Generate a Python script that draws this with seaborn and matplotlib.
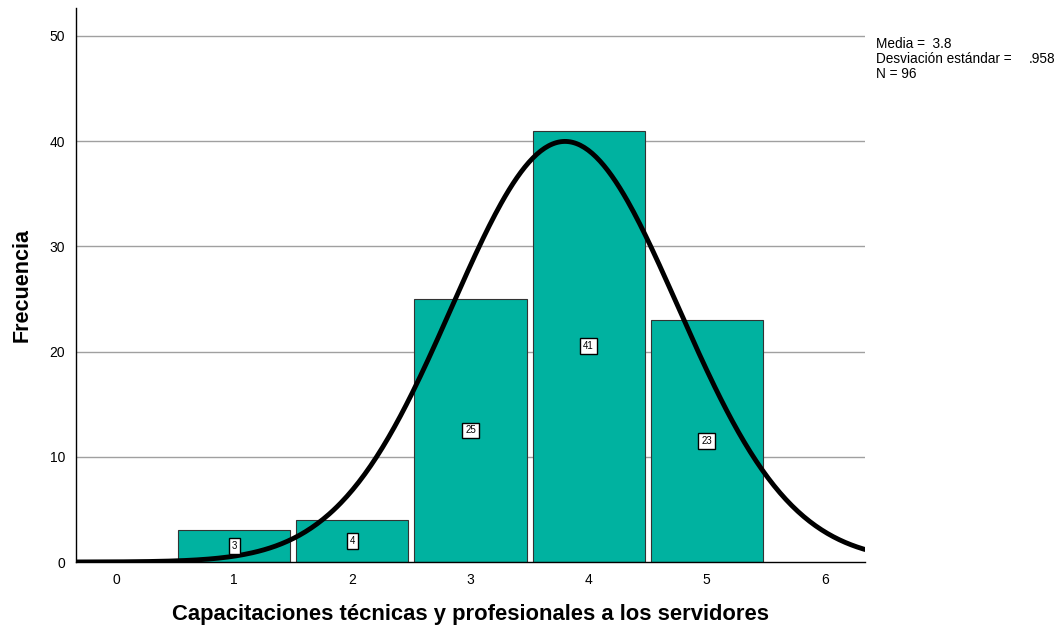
import seaborn as sns
import pandas as pd
import numpy as np
import matplotlib.pyplot as plt

valores = [1, 2, 3, 4, 5]
frecuencias = [3, 4, 25, 41, 23]
media = 3.8
desv = 0.958
n_total = 96

sns.set_style('white')
plt.rcParams['font.family'] = ['Liberation Sans', 'DejaVu Sans']
plt.rcParams['text.color'] = 'black'
plt.rcParams['axes.labelcolor'] = 'black'
plt.rcParams['xtick.color'] = 'black'
plt.rcParams['ytick.color'] = 'black'

df = pd.DataFrame({'valor': valores, 'frecuencia': frecuencias})

fig = plt.figure(figsize=(10.57, 6.29), dpi=100)
ax = fig.add_axes([76 / 1057, 1 - 562 / 629, (865 - 76) / 1057, (562 - 8) / 629])

# líneas de cuadrícula horizontales
for yv in [10, 20, 30, 40, 50]:
    ax.axhline(yv, color='#a0a0a0', lw=1, zorder=0)

sns.histplot(data=df, x='valor', weights='frecuencia', discrete=True, shrink=0.95,
             color='#00b2a0', alpha=1, edgecolor='#333333', linewidth=0.8, ax=ax, zorder=2)

# curva normal
xs = np.linspace(-0.34, 6.34, 400)
ys = n_total * np.exp(-0.5 * ((xs - media) / desv) ** 2) / (desv * np.sqrt(2 * np.pi))
sns.lineplot(x=xs, y=ys, color='black', lw=3.5, ax=ax, zorder=4)

# etiquetas de frecuencia
for v, f in zip(valores, frecuencias):
    ax.text(v, f / 2, str(f), ha='center', va='center', fontsize=7, zorder=5,
            bbox=dict(boxstyle='square,pad=0.3', fc='white', ec='black', lw=1))

ax.set_xlim(-0.34, 6.34)
ax.set_ylim(0, 52.66)
ax.set_xticks(range(0, 7))
ax.set_yticks(range(0, 51, 10))
ax.tick_params(axis='both', length=0, labelsize=10, pad=8)
ax.set_xlabel('Capacitaciones técnicas y profesionales a los servidores',
              fontsize=15.8, fontweight='bold', labelpad=12)
ax.set_ylabel('Frecuencia', fontsize=15.5, fontweight='bold', labelpad=12)
for s in ['top', 'right']:
    ax.spines[s].set_visible(False)
for s in ['left', 'bottom']:
    ax.spines[s].set_color('black')
    ax.spines[s].set_linewidth(1)

fig.text(876 / 1057, 1 - 44 / 629, 'Media =  3.8', fontsize=9.8, va='center')
fig.text(876 / 1057, 1 - 59 / 629, 'Desviación estándar =', fontsize=9.8, va='center')
fig.text(1029 / 1057, 1 - 59 / 629, '.958', fontsize=9.8, va='center')
fig.text(876 / 1057, 1 - 74 / 629, 'N = 96', fontsize=9.8, va='center')

plt.savefig('out.png', dpi=100)
